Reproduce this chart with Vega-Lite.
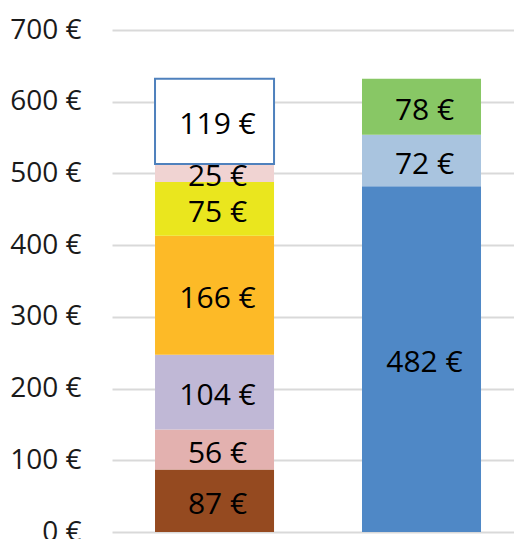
{
  "$schema": "https://vega.github.io/schema/vega-lite/v6.json",
  "width": 402,
  "height": 502,
  "autosize": "none",
  "padding": {"top": 30, "left": 112, "right": 0, "bottom": 7},
  "background": "white",
  "config": {"view": {"stroke": null}, "font": "Open Sans"},
  "data": {
    "values": [
      {"bar": "A", "seg": "s1", "order": 1, "value": 87},
      {"bar": "A", "seg": "s2", "order": 2, "value": 56},
      {"bar": "A", "seg": "s3", "order": 3, "value": 104},
      {"bar": "A", "seg": "s4", "order": 4, "value": 166},
      {"bar": "A", "seg": "s5", "order": 5, "value": 75},
      {"bar": "A", "seg": "s6", "order": 6, "value": 25},
      {"bar": "A", "seg": "s7", "order": 7, "value": 119},
      {"bar": "B", "seg": "t1", "order": 1, "value": 482},
      {"bar": "B", "seg": "t2", "order": 2, "value": 72},
      {"bar": "B", "seg": "t3", "order": 3, "value": 78}
    ]
  },
  "transform": [
    {"stack": "value", "groupby": ["bar"], "sort": [{"field": "order", "order": "ascending"}], "as": ["y0", "y1"]},
    {"calculate": "(datum.y0 + datum.y1) / 2", "as": "ymid"}
  ],
  "encoding": {
    "x": {
      "field": "bar", "type": "nominal", "axis": null,
      "scale": {"paddingInner": 0.425, "paddingOuter": 0.1836, "align": 0.566}
    }
  },
  "layer": [
    {
      "mark": {"type": "bar"},
      "encoding": {
        "y": {
          "field": "y0", "type": "quantitative",
          "scale": {"domain": [0, 700], "nice": false, "zero": true},
          "axis": {
            "values": [0, 100, 200, 300, 400, 500, 600, 700],
            "labelExpr": "datum.value + ' €'",
            "grid": true, "gridColor": "#d9d9d9", "gridWidth": 2,
            "domain": false, "ticks": false,
            "labelFontSize": 28, "labelColor": "#1a1a1a", "labelPadding": 31,
            "labelFont": "Open Sans", "title": null
          }
        },
        "y2": {"field": "y1"},
        "color": {
          "field": "seg", "type": "nominal", "legend": null,
          "scale": {
            "domain": ["s1", "s2", "s3", "s4", "s5", "s6", "s7", "t1", "t2", "t3"],
            "range": ["#954A20", "#E3B1AF", "#C0B8D6", "#FDBA27", "#EAE61E", "#F0D3D2", "#FFFFFF", "#4F88C6", "#A9C4DF", "#88C765"]
          }
        },
        "stroke": {
          "condition": {"test": "datum.seg === 's7'", "value": "#4F81BD"},
          "value": null
        },
        "strokeWidth": {
          "condition": {"test": "datum.seg === 's7'", "value": 2},
          "value": 0
        }
      }
    },
    {
      "mark": {
        "type": "text", "fontSize": 30, "color": "#000000", "font": "Open Sans",
        "text": {"expr": "datum.value + ' €'"}, "dx": 3, "dy": 4
      },
      "encoding": {
        "y": {"field": "ymid", "type": "quantitative"}
      }
    }
  ]
}
